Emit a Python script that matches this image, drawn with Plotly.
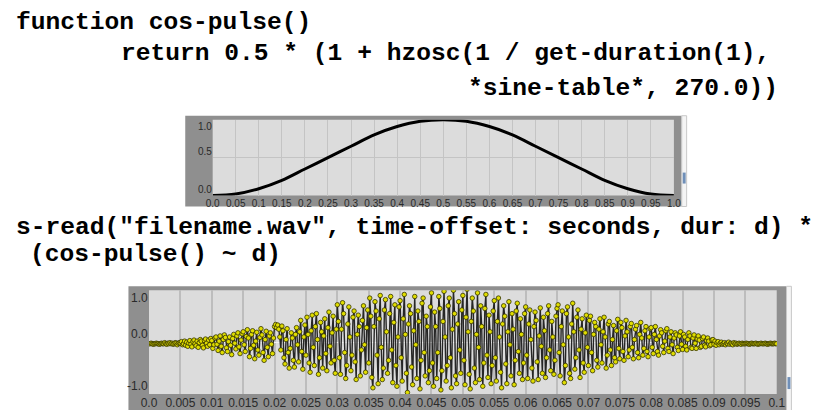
import numpy as np
import plotly.graph_objects as go

# ---------------- data ----------------
# top plot: cos-pulse envelope read at every 0.05
pulse_t = [0.0, 0.05, 0.1, 0.15, 0.2, 0.25, 0.3, 0.35, 0.4, 0.45, 0.5,
           0.55, 0.6, 0.65, 0.7, 0.75, 0.8, 0.85, 0.9, 0.95, 1.0]
pulse_v = [0.0, 0.02, 0.09, 0.2, 0.35, 0.5, 0.65, 0.8, 0.91, 0.98, 1.0,
           0.98, 0.91, 0.8, 0.65, 0.5, 0.35, 0.2, 0.09, 0.02, 0.0]
pulse_ticks = [0.0, 0.05, 0.1, 0.15, 0.2, 0.25, 0.3, 0.35, 0.4, 0.45, 0.5,
               0.55, 0.6, 0.65, 0.7, 0.75, 0.8, 0.85, 0.9, 0.95, 1.0]
pulse_ticktext = ["0.0", "0.05", "0.1", "0.15", "0.2", "0.25", "0.3", "0.35", "0.4", "0.45", "0.5",
                  "0.55", "0.6", "0.65", "0.7", "0.75", "0.8", "0.85", "0.9", "0.95", "1.0"]
pulse_yticks = [0.0, 0.5, 1.0]
pulse_yticktext = ["0.0", "0.5", "1.0"]

# bottom plot: windowed sound samples (one row per 0.005 s)
wave_v = [
    -0.03, -0.03, -0.02, -0.03, -0.04, -0.03, -0.03, -0.02, -0.03, -0.03, -0.04, -0.03, -0.02, -0.03, -0.03, -0.01, -0.03, -0.04, -0.02, -0.03, -0.01, -0.03, -0.02, -0.04, -0.03, -0.01, -0.02, -0.05, -0.02, -0.01,
    -0.02, 0.01, -0.05, -0.03, 0.02, -0.06, 0.00, -0.08, -0.02, 0.03, -0.04, -0.09, 0.01, 0.04, -0.03, -0.07, 0.02, -0.10, -0.01, 0.05, 0.02, -0.06, -0.11, 0.03, 0.06, -0.02, -0.08, 0.04, -0.05, 0.07,
    0.03, -0.12, -0.05, 0.08, 0.10, -0.04, -0.16, 0.02, 0.12, -0.08, -0.20, 0.05, 0.14, 0.09, -0.11, -0.18, 0.01, 0.10, -0.06, -0.24, 0.07, 0.15, -0.02, -0.13, 0.12, 0.18, -0.09, -0.22, 0.04, 0.16,
    0.20, -0.05, -0.18, 0.11, 0.24, 0.08, -0.28, -0.12, 0.15, 0.22, -0.06, -0.32, 0.02, 0.19, -0.15, -0.25, 0.09, 0.26, 0.14, -0.20, -0.35, 0.05, 0.21, -0.10, -0.28, 0.12, 0.18, -0.04, -0.22, 0.08,
    0.30, 0.34, 0.28, 0.33, 0.25, 0.10, -0.15, 0.31, 0.22, -0.30, -0.42, 0.05, 0.26, -0.20, -0.50, -0.12, 0.18, 0.08, -0.35, -0.48, 0.15, 0.28, -0.05, -0.38, 0.20, 0.42, -0.18, -0.52, 0.10, 0.33,
    -0.25, 0.48, 0.15, -0.40, -0.58, 0.22, 0.52, -0.10, -0.45, 0.30, 0.55, 0.05, -0.62, -0.30, 0.38, 0.20, -0.50, 0.12, 0.45, -0.22, -0.55, 0.28, 0.58, -0.08, -0.40, 0.18, 0.50, -0.35, -0.60, 0.25,
    0.72, 0.40, -0.30, -0.62, 0.25, 0.76, 0.55, -0.20, -0.70, -0.45, 0.35, 0.68, 0.10, -0.55, -0.25, 0.48, 0.60, -0.38, -0.72, 0.15, 0.52, 0.30, -0.65, -0.15, 0.42, 0.70, -0.05, -0.58, 0.28, 0.62,
    -0.40, 0.85, 0.50, -0.68, -0.88, 0.30, 0.78, 0.60, -0.25, -0.80, 0.45, 0.90, -0.10, -0.72, -0.50, 0.62, 0.82, 0.20, -0.60, -0.35, 0.55, 0.88, -0.15, -0.78, 0.38, 0.72, -0.45, -0.85, 0.10, 0.68,
    0.80, -0.30, -0.75, 0.45, 0.92, 0.15, -0.60, -0.97, 0.35, 0.70, 0.55, -0.48, -0.82, 0.22, 0.88, -0.05, -0.70, 0.60, 0.40, -0.90, -0.35, 0.75, 0.85, -0.20, -0.65, 0.50, 0.30, -0.78, -0.55, 0.68,
    0.95, -0.40, -0.85, 0.58, 0.30, -0.70, -0.20, 0.88, 0.65, -0.92, -0.55, 0.40, 0.98, 0.10, -0.75, -0.45, 0.70, 0.85, -0.30, -0.88, 0.25, 1.00, 0.55, -0.65, -0.80, 0.35, 0.78, -0.15, -0.60, 0.62,
    0.90, -0.35, -0.82, 0.48, 1.02, 0.20, -0.62, -0.90, 0.40, 0.85, 0.60, -0.50, -0.78, 0.15, 0.95, -0.10, -0.72, 0.70, 0.30, -0.85, -0.40, 0.65, 0.92, -0.25, -0.68, 0.52, 0.20, -0.80, -0.45, 0.60,
    0.80, -0.30, -0.75, 0.40, 0.85, 0.10, -0.58, -0.88, 0.35, 0.70, 0.50, -0.42, -0.80, 0.20, 0.78, -0.05, -0.65, 0.55, 0.25, -0.82, -0.35, 0.60, 0.75, -0.18, -0.60, 0.45, 0.15, -0.72, -0.40, 0.55,
    0.68, -0.25, -0.70, 0.35, 0.62, 0.05, -0.50, -0.75, 0.30, 0.58, 0.42, -0.38, -0.72, 0.12, 0.66, -0.08, -0.60, 0.48, 0.22, -0.68, -0.30, 0.55, 0.70, -0.15, -0.55, 0.40, 0.10, -0.62, -0.35, 0.50,
    0.65, 0.72, -0.20, -0.65, 0.30, 0.60, -0.05, -0.78, -0.45, 0.55, 0.68, 0.10, -0.60, -0.70, 0.35, 0.75, 0.20, -0.52, -0.30, 0.48, 0.62, -0.15, -0.68, 0.25, 0.45, -0.40, -0.58, 0.18, 0.52, -0.10,
    -0.45, 0.42, 0.50, -0.20, -0.55, 0.15, 0.38, 0.30, -0.35, -0.48, 0.25, 0.45, -0.05, -0.40, 0.20, 0.48, 0.10, -0.50, -0.25, 0.35, 0.40, -0.15, -0.45, 0.05, 0.32, -0.30, -0.38, 0.22, 0.44, -0.12,
    -0.32, 0.38, 0.28, -0.18, -0.35, 0.12, 0.42, 0.20, -0.28, -0.15, 0.30, 0.36, -0.10, -0.32, 0.05, 0.25, 0.32, -0.20, -0.30, 0.15, 0.38, 0.08, -0.25, -0.12, 0.22, 0.30, -0.18, -0.28, 0.10, 0.26,
    0.28, -0.10, -0.22, 0.15, 0.30, 0.05, -0.18, -0.25, 0.12, 0.24, 0.18, -0.08, -0.20, 0.02, 0.22, 0.26, -0.12, -0.18, 0.10, 0.20, -0.05, -0.22, 0.08, 0.18, 0.14, -0.10, -0.16, 0.12, 0.20, -0.04,
    -0.14, 0.15, 0.10, -0.08, -0.15, 0.05, 0.18, 0.12, -0.10, -0.12, 0.08, 0.14, -0.02, -0.12, 0.06, 0.12, 0.04, -0.10, -0.08, 0.07, 0.10, -0.06, -0.09, 0.03, 0.08, 0.02, -0.07, -0.05, 0.04, 0.05,
    -0.04, 0.02, -0.06, -0.01, 0.01, -0.05, -0.02, 0.00, -0.04, -0.03, -0.01, -0.05, -0.02, -0.03, 0.00, -0.04, -0.02, -0.03, -0.05, -0.01, -0.03, -0.02, -0.04, -0.03, -0.02, -0.03, -0.04, -0.02, -0.03, -0.03,
    -0.03, -0.02, -0.03, -0.03, -0.04, -0.03, -0.02, -0.03, -0.03, -0.03, -0.02, -0.03, -0.04, -0.03, -0.03, -0.02, -0.03, -0.03, -0.03, -0.02, -0.03, -0.04, -0.03, -0.03, -0.02, -0.03, -0.03, -0.03, -0.02, -0.03,
    -0.03,
]
wave_t = np.linspace(0.0, 0.1, len(wave_v))
wave_ticks = [0.0, 0.005, 0.01, 0.015, 0.02, 0.025, 0.03, 0.035, 0.04, 0.045, 0.05,
              0.055, 0.06, 0.065, 0.07, 0.075, 0.08, 0.085, 0.09, 0.095, 0.1]
wave_ticktext = ["0.0", "0.005", "0.01", "0.015", "0.02", "0.025", "0.03", "0.035", "0.04", "0.045", "0.05",
                 "0.055", "0.06", "0.065", "0.07", "0.075", "0.08", "0.085", "0.09", "0.095", "0.1"]
wave_yticks = [-1.0, 0.0, 1.0]
wave_yticktext = ["-1.0", "0.0", "1.0"]

code_lines = [
    ("function cos-pulse()", 8, 23),
    ("return 0.5 * (1 + hzosc(1 / get-duration(1),", 115, 54),
    ("*sine-table*, 270.0))", 470, 89),
    ('s-read("filename.wav", time-offset: seconds, dur: d) *', 8, 228),
    ("(cos-pulse() ~ d)", 22, 255),
]

# ---------------- figure ----------------
W, H = 820, 410
def px(x):
    return x / W
def py(y):
    return 1 - y / H

fig = go.Figure()

fig.add_trace(go.Scatter(
    x=pulse_t, y=pulse_v, mode="lines", line=dict(color="black", width=3, shape="spline"),
    xaxis="x", yaxis="y", hoverinfo="skip", showlegend=False))

fig.add_trace(go.Scatter(
    x=wave_t, y=wave_v, mode="lines+markers",
    line=dict(color="#262626", width=1.4),
    marker=dict(color="#e0dd00", size=4.5, line=dict(color="#333300", width=0.8)),
    xaxis="x2", yaxis="y2", hoverinfo="skip", showlegend=False))

def rect(x0, x1, y0, y1, color, **kw):
    fig.add_shape(type="rect", xref="paper", yref="paper", x0=px(x0), x1=px(x1), y0=py(y1), y1=py(y0),
                  fillcolor=color, layer="below", **kw)

# frames
rect(181, 688, 116, 207, "#8f8f8f", line_width=0)
rect(123, 795, 287, 420, "#8f8f8f", line_width=0)
# plot backgrounds
rect(209, 680, 120, 196, "#dcdcdc", line_width=0)
rect(144, 785, 291, 395, "#dcdcdc", line_width=0)
# thin scrollbar strips at the right of each frame
rect(688, 693, 116, 207, "#f4f4f4", line=dict(color="#c8c8c8", width=1))
rect(689, 692, 173, 184, "#6f8fb8", line_width=0)
rect(795, 800, 287, 420, "#f4f4f4", line=dict(color="#c8c8c8", width=1))
rect(796, 799, 378, 390, "#6f8fb8", line_width=0)

tickfont_top = dict(family="Liberation Sans, Arial", size=10, color="#2a2a2a")
tickfont_bot = dict(family="Liberation Sans, Arial", size=12, color="#2a2a2a")

fig.update_layout(
    width=W, height=H, margin=dict(l=0, r=0, t=0, b=0),
    paper_bgcolor="white", plot_bgcolor="rgba(0,0,0,0)",
    xaxis=dict(domain=[px(209), px(680)], range=[0, 1], tickvals=pulse_ticks, ticktext=pulse_ticktext,
               showgrid=True, gridcolor="#c4c4c4", gridwidth=1, zeroline=False, showline=False,
               ticks="", tickfont=tickfont_top, anchor="y", tickangle=0, ticklabelstandoff=0),
    yaxis=dict(domain=[py(196), py(120)], range=[0, 1], tickvals=pulse_yticks,
               showgrid=True, gridcolor="#c4c4c4", zeroline=False, showline=False, ticks="",
               showticklabels=False, anchor="x"),
    xaxis2=dict(domain=[px(144), px(785)], range=[0, 0.1], tickvals=wave_ticks, ticktext=wave_ticktext,
                showgrid=True, gridcolor="#bdbdbd", gridwidth=1.5, zeroline=False, showline=False,
                ticks="", tickfont=tickfont_bot, anchor="y2", tickangle=0, ticklabelstandoff=0),
    yaxis2=dict(domain=[py(395), py(291)], range=[-1.0, 1.0], showgrid=False, zeroline=True,
                zerolinecolor="#f2f2f2", zerolinewidth=1, showline=False, ticks="",
                showticklabels=False, anchor="x2"),
)

# y tick labels: sit just above their value, the top one just below it
for val, txt in zip(pulse_yticks, pulse_yticktext):
    fig.add_annotation(text=txt, xref="x domain", yref="y", x=0, y=val, xanchor="right",
                       yanchor="top" if val == max(pulse_yticks) else "bottom",
                       showarrow=False, font=tickfont_top, borderpad=0)
for val, txt in zip(wave_yticks, wave_yticktext):
    fig.add_annotation(text=txt, xref="x2 domain", yref="y2", x=0, y=val, xanchor="right",
                       yanchor="top" if val == max(wave_yticks) else "bottom",
                       showarrow=False, font=tickfont_bot, borderpad=0)

for text, x, y in code_lines:
    fig.add_annotation(text=text, xref="paper", yref="paper", x=px(x - 2), y=py(y),
                       xanchor="left", yanchor="middle", showarrow=False,
                       font=dict(family="Liberation Mono, Courier New, monospace", size=24.6, color="black",
                                 weight="bold"))

fig.write_html(
    "out.html",
    config={"displayModeBar": False},
    post_script="document.body.style.margin='0px';"
                "document.documentElement.style.overflow='hidden';"
                "document.body.style.overflow='hidden';",
)
